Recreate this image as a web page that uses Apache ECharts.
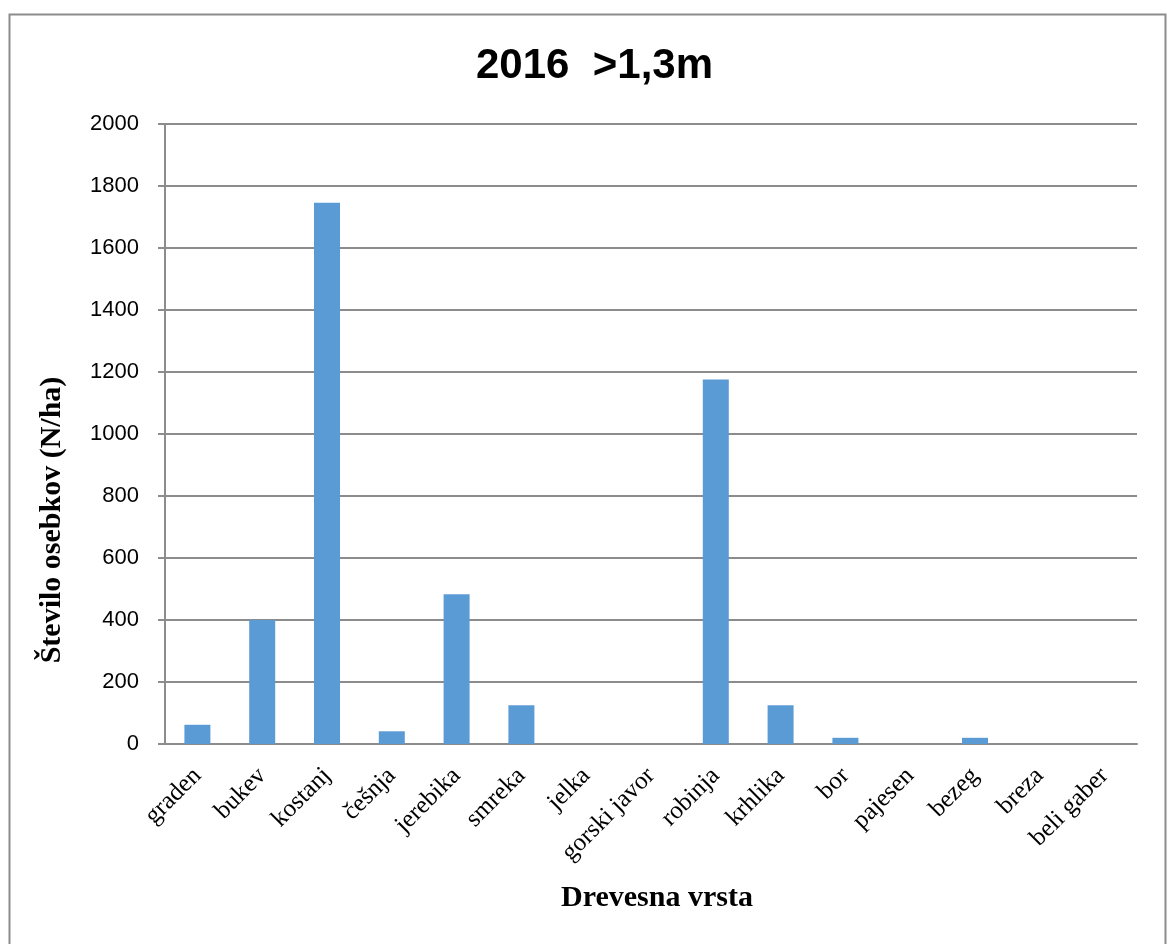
<!DOCTYPE html>
<html>
<head>
<meta charset="utf-8">
<script src="https://cdn.jsdelivr.net/npm/echarts@6/dist/echarts.min.js"></script>
<style>html,body{margin:0;padding:0;background:#fff}#c{width:1169px;height:944px}</style>
</head>
<body>
<div id="c"></div>
<script>
const categories = ['graden','bukev','kostanj','češnja','jerebika','smreka','jelka','gorski javor','robinja','krhlika','bor','pajesen','bezeg','breza','beli gaber'];
const values = [62, 400, 1746, 41, 483, 125, 0, 0, 1176, 125, 20, 0, 20, 0, 0];
const titleText = '2016  >1,3m';
const yTitle = 'Število osebkov (N/ha)';
const xTitle = 'Drevesna vrsta';

const chart = echarts.init(document.getElementById('c'), null, {renderer: 'canvas'});
const lineColor = '#8c8c8c';
chart.setOption({
  animation: false,
  backgroundColor: '#fff',
  title: {
    text: titleText, left: 471, top: 40,
    textStyle: {fontFamily: 'Liberation Sans', fontWeight: 'bold', fontSize: 42, color: '#000'}
  },
  grid: {left: 165, right: 32, top: 124, bottom: 200},
  xAxis: {
    type: 'category', data: categories,
    axisLine: {lineStyle: {color: lineColor, width: 2}},
    axisTick: {show: false},
    axisLabel: {rotate: 45, margin: 28, interval: 0, fontFamily: 'Liberation Serif', fontSize: 25, color: '#000'}
  },
  yAxis: {
    type: 'value', min: 0, max: 2000, interval: 200,
    axisLine: {show: true, lineStyle: {color: lineColor, width: 2}},
    axisTick: {show: true, length: 7, lineStyle: {color: lineColor, width: 2}},
    splitLine: {lineStyle: {color: lineColor, width: 2}},
    axisLabel: {margin: 26, fontFamily: 'Liberation Sans', fontSize: 22, color: '#000', formatter: v => String(v)}
  },
  series: [{
    type: 'bar', data: values, barWidth: 26,
    itemStyle: {color: '#5b9bd5'}
  }],
  graphic: [
    {type: 'rect', left: 7, top: 12, shape: {width: 1156, height: 1000}, style: {fill: 'none', stroke: '#8c8c8c', lineWidth: 2}, silent: true},
    {type: 'text', x: 52, y: 520, rotation: Math.PI/2, style: {text: yTitle, fontFamily: 'Liberation Serif', fontWeight: 'bold', fontSize: 30, fill: '#000', align: 'center', verticalAlign: 'middle'}},
    {type: 'text', x: 657, y: 898, style: {text: xTitle, fontFamily: 'Liberation Serif', fontWeight: 'bold', fontSize: 30, fill: '#000', align: 'center', verticalAlign: 'middle'}}
  ]
});
</script>
</body>
</html>
